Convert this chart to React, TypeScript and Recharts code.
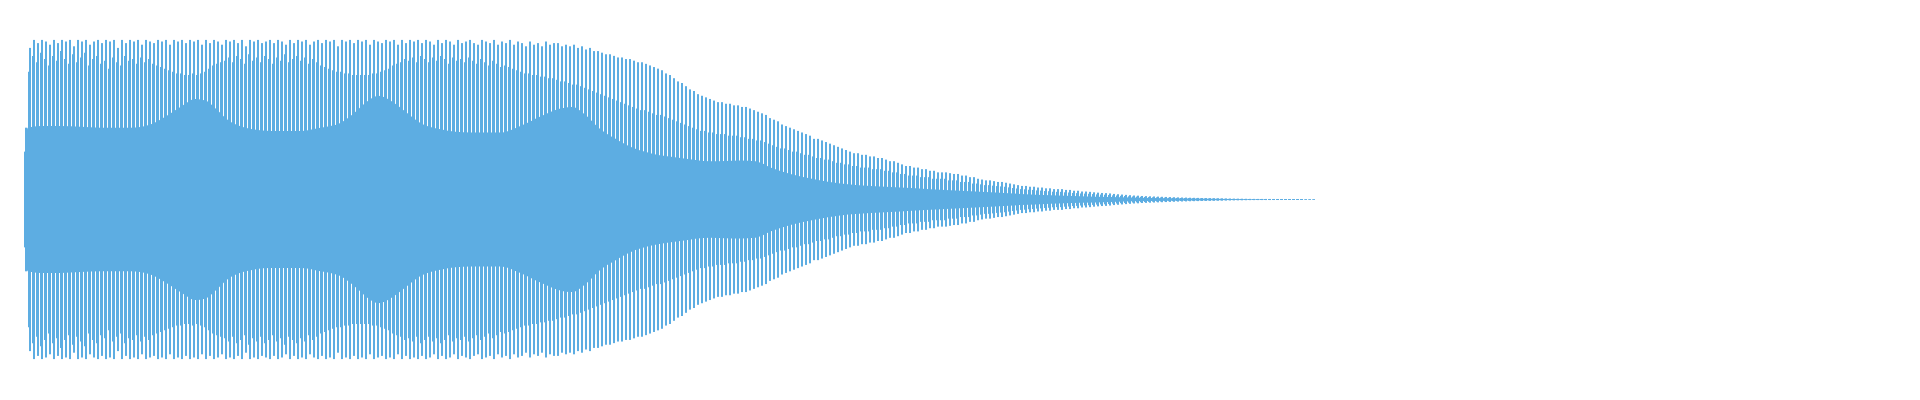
import { ComposedChart, Bar, Area, XAxis, YAxis } from "recharts";

const WAVE_COLOR = "#5DADE2";

// tall peaks of each 4px column (percent of full scale)
const peaks = [
  45, 95, 100, 98, 100, 99, 97, 100, 98, 100,
  99, 100, 96, 100, 99, 100, 97, 99, 100, 98,
  100, 99, 100, 95, 100, 98, 100, 99, 100, 97,
  100, 99, 98, 100, 99, 100, 97, 100, 99, 100,
  98, 100, 99, 100, 97, 100, 98, 100, 99, 97,
  100, 99, 100, 98, 100, 96, 100, 99, 100, 98,
  99, 100, 98, 100, 99, 97, 100, 98, 100, 99,
  100, 97, 99, 100, 98, 100, 99, 100, 96, 100,
  99, 100, 98, 100, 99, 100, 97, 100, 99, 98,
  100, 99, 100, 97, 100, 98, 100, 99, 100, 98,
  100, 99, 97, 100, 98, 100, 99, 97, 100, 98,
  99, 100, 98, 97, 100, 99, 98, 100, 97, 99,
  98, 100, 97, 99, 98, 96, 99, 97, 98, 96,
  99, 97, 98, 98, 96, 97, 96, 97, 95, 96,
  94, 95, 93, 93, 92, 91, 91, 90, 89, 89,
  88, 88, 87, 86, 86, 85, 84, 83, 82, 81,
  79, 78, 76, 74, 73, 71, 69, 68, 66, 65,
  64, 63, 62, 61, 61, 60, 60, 59, 59, 58,
  58, 57, 56, 55, 54, 53, 51, 50, 49, 47,
  46, 45, 44, 43, 42, 41, 40, 38, 38, 37,
  36, 35, 34, 33, 32, 31, 30, 29, 29, 28,
  28, 27, 27, 26, 26, 25, 24, 24, 23, 22,
  21, 21, 20, 20, 19, 19, 18, 18, 17, 17,
  17, 16.5, 16, 16, 15, 15, 14, 14, 13, 12.5,
  12, 12, 11.5, 11, 11, 10.5, 10, 9.5, 9, 8.5,
  8.5, 8, 8, 7.5, 7.5, 7, 7, 6.5, 6.5, 6.5,
  6, 6, 5.5, 5.5, 5, 5, 4.8, 4.5, 4.3, 4.1,
  4, 3.8, 3.5, 3.3, 3.1, 2.9, 2.7, 2.5, 2.4, 2.2,
  2.1, 2, 1.9, 1.8, 1.7, 1.6, 1.5, 1.4, 1.3, 1.25,
  1.2, 1.1, 1.05, 1, 0.9, 0.85, 0.8, 0.75, 0.7, 0.65,
  0.6, 0.55, 0.5, 0.48, 0.45, 0.42, 0.4, 0.38, 0.36, 0.35,
  0.35, 0.34, 0.33, 0.32, 0.32, 0.31, 0.3, 0.3, 0.3, 0.3,
  0.22, 0.2, 0.2,
];

// level the gap inside each column is filled to
const mids = [
  30, 80, 90, 86, 92, 88, 84, 90, 87, 93,
  88, 85, 91, 86, 89, 92, 84, 88, 90, 85,
  87, 82, 89, 86, 84, 90, 87, 88, 85, 89,
  86, 88, 85, 84, 83, 82, 81, 80, 79, 79,
  78, 78, 79, 78, 79, 80, 82, 84, 85, 86,
  87, 89, 86, 90, 88, 85, 91, 87, 89, 86,
  90, 88, 85, 89, 87, 91, 86, 88, 90, 87,
  89, 85, 88, 86, 84, 83, 82, 81, 80, 80,
  79, 79, 78, 78, 78, 78, 78, 79, 79, 80,
  81, 82, 84, 85, 86, 88, 87, 89, 86, 90,
  88, 86, 89, 87, 90, 88, 85, 89, 87, 88,
  86, 89, 87, 85, 88, 86, 84, 87, 85, 83,
  84, 83, 82, 81, 80, 79, 79, 78, 78, 77,
  77, 76, 76, 75, 74, 74, 73, 72, 72, 71,
  70, 69, 68, 67, 66, 65, 64, 63, 62, 61,
  60, 59, 58, 57, 56, 56, 55, 54, 53, 53,
  52, 51, 50, 49, 48, 47, 46, 45, 44, 43,
  43, 42, 42, 41, 41, 41, 40, 40, 40, 39,
  39, 38, 38, 37, 37, 36, 35, 34, 33, 32,
  32, 31, 30, 30, 29, 28, 28, 27, 26, 26,
  25, 25, 24, 23, 23, 22, 22, 21, 21, 20,
  20, 20, 19, 19, 19, 18, 18, 17, 17, 16,
  16, 15, 15, 15, 14, 14, 14, 13, 13, 13,
  13, 12, 12, 12, 11, 11, 11, 10, 10, 9.5,
  9, 9, 8.7, 8.4, 8.2, 8, 7.6, 7.2, 6.9, 6.5,
  6.4, 6.1, 6, 5.7, 5.6, 5.3, 5.2, 4.9, 4.8, 4.8,
  4.5, 4.4, 4.1, 4, 3.8, 3.7, 3.6, 3.4, 3.2, 3.1,
  3, 2.8, 2.6, 2.5, 2.3, 2.2, 2, 1.9, 1.8, 1.7,
  1.6, 1.5, 1.4, 1.35, 1.3, 1.2, 1.1, 1.05, 1, 0.95,
  0.9, 0.85, 0.8, 0.75, 0.7, 0.65, 0.6, 0.58, 0.55, 0.5,
  0.45, 0.42, 0.4, 0.38, 0.36, 0.34, 0.32, 0.3, 0.3, 0.3,
  0.3, 0.3, 0.3, 0.3, 0.3, 0.3, 0.3, 0.3, 0.3, 0.3,
  0.2, 0.2, 0.2,
];

// solid inner band: column position and level
const coreAt = [
  -0.4, -0.1, 0.4, 3.6, 8.6, 18.6, 26.1, 31.1, 34.9, 38.6, 42.4, 44.9, 47.4,
  50.4, 54.9, 61.1, 68.6, 73.6, 78.6, 82.4, 85.6, 88.1, 91.1, 94.9, 98.6,
  103.6, 111.1, 118.6, 123.6, 128.6, 133.6, 136.6, 139.9, 143.6, 147.4,
  151.1, 156.1, 163.6, 171.1, 178.6, 182.4, 186.1, 191.1, 197.4, 203.6,
  211.1, 218.6, 226.1, 233.6, 241.1, 248.6, 256.1, 263.6, 271.1, 281.1,
  291.1, 301.1, 309.9,
];
const coreLevel = [
  0, 30, 45, 46, 46, 45, 45, 47, 52, 58, 63, 62, 57,
  50, 45, 43, 43, 45, 48, 55, 62, 65, 62, 55, 48,
  44, 42, 42, 46, 52, 57, 58, 53, 44, 38,
  33, 29, 26, 24, 24.5, 24, 20, 16, 12.5, 10,
  8.5, 7.5, 6.5, 5.5, 4.5, 3.5, 2.6, 2, 1.5, 1,
  0.6, 0.3, 0.2,
];

const columns = peaks.map((p, k) => ({ k, peak: [-p, p], mid: [-mids[k], mids[k]] }));
const band = coreAt.map((k, j) => ({ k, band: [-coreLevel[j], coreLevel[j]] }));

// each tall column is two thin strips with a gap between them
function TwinStrip(props: any) {
  const { x, y, width, height } = props;
  const left = Math.round(x);
  const strip = Math.max(1, Math.round(width / 3));
  const right = Math.round(x + width) - strip;
  return (
    <g>
      <rect x={left} y={y} width={strip} height={height} fill={WAVE_COLOR} />
      <rect x={right} y={y} width={strip} height={height} fill={WAVE_COLOR} />
    </g>
  );
}

export default function App() {
  const domain = [-0.5, peaks.length - 0.5];
  return (
    <ComposedChart
      width={1904}
      height={383}
      data={columns}
      margin={{ top: 0, right: 596, bottom: 0, left: 16 }}
    >
      <XAxis xAxisId="a" type="number" dataKey="k" domain={domain} hide />
      <XAxis xAxisId="b" type="number" dataKey="k" domain={domain} hide />
      <YAxis type="number" domain={[-120, 120]} hide />
      <Area
        xAxisId="a"
        data={band}
        dataKey="band"
        type="monotone"
        fill={WAVE_COLOR}
        fillOpacity={1}
        stroke="none"
        isAnimationActive={false}
      />
      <Bar xAxisId="b" dataKey="mid" barSize={3} fill={WAVE_COLOR} isAnimationActive={false} />
      <Bar
        xAxisId="a"
        dataKey="peak"
        barSize={3}
        fill={WAVE_COLOR}
        shape={TwinStrip}
        isAnimationActive={false}
      />
    </ComposedChart>
  );
}
